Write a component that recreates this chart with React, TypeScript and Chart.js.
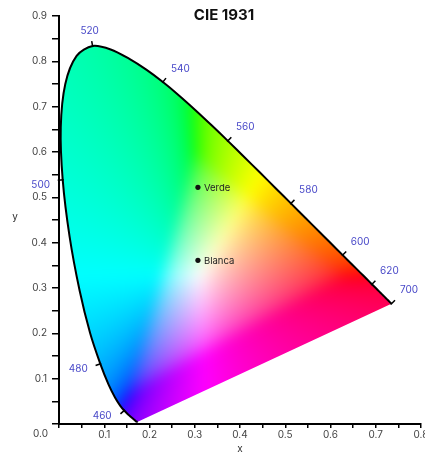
import React, { useEffect, useRef } from 'react';
import { Chart, registerables } from 'chart.js';

Chart.register(...registerables);

// Spectral locus (CIE 1931 2°), wavelength in nm
const wavelengths = [380, 385, 390, 395, 400, 405, 410, 415, 420, 425, 430, 435, 440, 445, 450, 455, 460, 465, 470, 475, 480, 485, 490, 495, 500, 505, 510, 515, 520, 525, 530, 535, 540, 545, 550, 555, 560, 565, 570, 575, 580, 585, 590, 595, 600, 605, 610, 615, 620, 625, 630, 635, 640, 645, 650, 655, 660, 665, 670, 675, 680, 685, 690, 695, 700];
const locusX = [0.1741, 0.1740, 0.1738, 0.1736, 0.1733, 0.1730, 0.1726, 0.1721, 0.1714, 0.1703, 0.1689, 0.1669, 0.1644, 0.1611, 0.1566, 0.1510, 0.1440, 0.1355, 0.1241, 0.1096, 0.0913, 0.0687, 0.0454, 0.0235, 0.0082, 0.0039, 0.0139, 0.0389, 0.0743, 0.1142, 0.1547, 0.1929, 0.2296, 0.2658, 0.3016, 0.3373, 0.3731, 0.4087, 0.4441, 0.4788, 0.5125, 0.5448, 0.5752, 0.6029, 0.6270, 0.6482, 0.6658, 0.6801, 0.6915, 0.7006, 0.7079, 0.7140, 0.7190, 0.7230, 0.7260, 0.7283, 0.7300, 0.7311, 0.7320, 0.7327, 0.7334, 0.7340, 0.7344, 0.7346, 0.7347];
const locusY = [0.0050, 0.0050, 0.0049, 0.0049, 0.0048, 0.0048, 0.0048, 0.0048, 0.0051, 0.0058, 0.0069, 0.0086, 0.0109, 0.0138, 0.0177, 0.0227, 0.0297, 0.0399, 0.0578, 0.0868, 0.1327, 0.2007, 0.2950, 0.4127, 0.5384, 0.6548, 0.7502, 0.8120, 0.8338, 0.8262, 0.8059, 0.7816, 0.7543, 0.7243, 0.6923, 0.6589, 0.6245, 0.5896, 0.5547, 0.5202, 0.4866, 0.4544, 0.4242, 0.3965, 0.3725, 0.3514, 0.3340, 0.3197, 0.3083, 0.2993, 0.2920, 0.2859, 0.2809, 0.2770, 0.2740, 0.2717, 0.2700, 0.2689, 0.2680, 0.2673, 0.2666, 0.2660, 0.2656, 0.2654, 0.2653];
const markedWavelengths = [460, 480, 500, 520, 540, 560, 580, 600, 620, 700];

const pointNames = ['Verde', 'Blanca'];
const pointX = [0.307, 0.307];
const pointY = [0.522, 0.361];

const xMax = 0.8;
const yMax = 0.9;
const titleText = 'CIE 1931';

const FONT = 'Inter, "Noto Sans", sans-serif';

function xyToRgb(x: number, y: number): [number, number, number] {
  const yy = Math.max(y, 0.002);
  const xx = Math.max(x, 0);
  const X = xx / yy;
  const Y = 1;
  const Z = Math.max(0, 1 - xx - yy) / yy;
  let r = 3.2406 * X - 1.5372 * Y - 0.4986 * Z;
  let g = -0.9689 * X + 1.8758 * Y + 0.0415 * Z;
  let b = 0.0557 * X - 0.204 * Y + 1.057 * Z;
  const mn = Math.min(r, g, b);
  if (mn < 0) { r -= mn; g -= mn; b -= mn; }
  const m = Math.max(r, g, b) || 1;
  r /= m; g /= m; b /= m;
  const gam = (c: number) => (c <= 0.0031308 ? 12.92 * c : 1.055 * Math.pow(c, 1 / 2.4) - 0.055);
  return [gam(r) * 255, gam(g) * 255, gam(b) * 255];
}

function makePattern(chart: any) {
  const area = chart.chartArea;
  const xs = chart.scales.x;
  const ys = chart.scales.y;
  if (!area || !xs || !ys) return 'rgba(0,0,0,0)';
  const key = `${area.left},${area.top},${area.right},${area.bottom}`;
  if (chart.$cieKey === key && chart.$ciePattern) return chart.$ciePattern;
  const w = chart.width;
  const h = chart.height;
  const raw = document.createElement('canvas');
  raw.width = w;
  raw.height = h;
  const rctx = raw.getContext('2d')!;
  const img = rctx.createImageData(w, h);
  const d = img.data;
  for (let py = 0; py < h; py++) {
    const yv = ys.getValueForPixel(py + 0.5);
    for (let px = 0; px < w; px++) {
      const xv = xs.getValueForPixel(px + 0.5);
      const [r, g, b] = xyToRgb(xv, yv);
      const i = (py * w + px) * 4;
      d[i] = r; d[i + 1] = g; d[i + 2] = b; d[i + 3] = 255;
    }
  }
  rctx.putImageData(img, 0, 0);
  const off = document.createElement('canvas');
  off.width = w;
  off.height = h;
  const octx = off.getContext('2d')!;
  octx.filter = 'blur(7px)';
  octx.drawImage(raw, 0, 0);
  octx.filter = 'none';
  const pat = chart.ctx.createPattern(off, 'no-repeat');
  chart.$cieKey = key;
  chart.$ciePattern = pat;
  return pat;
}

const annotationsPlugin = {
  id: 'cieAnnotations',
  afterDatasetsDraw(chart: any) {
    const ctx = chart.ctx;
    const meta = chart.getDatasetMeta(0);
    const pts = meta.data;
    ctx.save();
    // wavelength markers
    ctx.font = `10px ${FONT}`;
    ctx.textAlign = 'center';
    ctx.textBaseline = 'middle';
    markedWavelengths.forEach((wl) => {
      const i = wavelengths.indexOf(wl);
      if (i < 0) return;
      const p = pts[i];
      const a = pts[Math.max(0, i - 1)];
      const b = pts[Math.min(pts.length - 1, i + 1)];
      let tx = b.x - a.x;
      let ty = b.y - a.y;
      const len = Math.hypot(tx, ty) || 1;
      tx /= len; ty /= len;
      const nx = ty;
      const ny = -tx;
      ctx.strokeStyle = '#000';
      ctx.lineWidth = 1.5;
      ctx.beginPath();
      ctx.moveTo(p.x - nx * 1, p.y - ny * 1);
      ctx.lineTo(p.x + nx * 5, p.y + ny * 5);
      ctx.stroke();
      // label placement depends on the side of the locus
      let ox: number;
      let oy: number;
      if (nx < -0.5) { ox = -22; oy = 5; }
      else if (nx > 0.5) { ox = 17.5; oy = -13.5; }
      else { ox = -3; oy = -15; }
      ctx.fillStyle = '#4848c8';
      ctx.fillText(String(wl), p.x + ox, p.y + oy);
    });
    // point names
    const pmeta = chart.getDatasetMeta(1);
    ctx.font = `9.5px ${FONT}`;
    ctx.textAlign = 'left';
    ctx.fillStyle = '#222';
    pmeta.data.forEach((p: any, i: number) => {
      ctx.fillText(pointNames[i], p.x + 6, p.y + 0.5);
    });
    // title
    ctx.font = `bold 15px ${FONT}`;
    ctx.textAlign = 'center';
    ctx.fillStyle = '#111';
    ctx.fillText(titleText, 224, 15);
    // y axis title (upright) and corner zero label
    ctx.font = `10px ${FONT}`;
    ctx.fillStyle = '#333';
    ctx.fillText('y', 15, 217);
    ctx.textAlign = 'right';
    ctx.fillStyle = '#444';
    ctx.fillText('0.0', 48, 433.5);
    ctx.restore();
  },
};

function tickLabel(v: number) {
  const r = Math.round(v * 100);
  if (r === 0) return '';
  return r % 10 === 0 ? (r / 100).toFixed(1) : '';
}

export default function App() {
  const ref = useRef<HTMLCanvasElement | null>(null);
  useEffect(() => {
    document.body.style.margin = '0';
    if (!ref.current) return;
    const chart = new Chart(ref.current, {
      type: 'scatter',
      data: {
        datasets: [
          {
            label: 'Locus',
            data: wavelengths.map((_, i) => ({ x: locusX[i], y: locusY[i] })),
            showLine: true,
            borderColor: '#000',
            borderWidth: 2,
            pointRadius: 0,
            tension: 0.3,
            fill: 'shape',
            backgroundColor: (c: any) => makePattern(c.chart),
            order: 1,
          } as any,
          {
            label: 'Puntos',
            data: pointX.map((x, i) => ({ x, y: pointY[i] })),
            pointRadius: 2.6,
            pointBackgroundColor: '#111',
            pointBorderWidth: 0,
            backgroundColor: '#111',
            order: 0,
          } as any,
        ],
      },
      options: {
        responsive: false,
        animation: false,
        events: [],
        layout: { padding: { top: 16, right: 3, left: 0, bottom: 0 } },
        plugins: {
          legend: { display: false },
          tooltip: { enabled: false },
          title: { display: false },
        },
        scales: {
          x: {
            type: 'linear',
            min: 0,
            max: xMax,
            afterFit: (s: any) => { s.height = 30; s.paddingLeft = 0; s.paddingRight = 0; },
            border: { color: '#000', width: 2 },
            grid: { drawOnChartArea: false, drawTicks: true, tickLength: 4, tickColor: '#000', lineWidth: 1.5 },
            ticks: { stepSize: 0.05, autoSkip: false, maxRotation: 0, padding: 1, color: '#444', font: { family: FONT, size: 10 }, callback: (v: any) => tickLabel(Number(v)) },
            title: { display: true, text: 'x', color: '#333', font: { family: FONT, size: 10 }, padding: { top: 0, bottom: -1 } },
          },
          y: {
            type: 'linear',
            min: 0,
            max: yMax,
            afterFit: (s: any) => { s.width = 59; s.paddingTop = 0; s.paddingBottom = 0; },
            border: { color: '#000', width: 2 },
            grid: { drawOnChartArea: false, drawTicks: true, tickLength: 7, tickColor: '#000', lineWidth: 1.5 },
            ticks: { stepSize: 0.05, autoSkip: false, padding: 5, color: '#444', font: { family: FONT, size: 10 }, callback: (v: any) => tickLabel(Number(v)) },
            title: { display: false },
          },
        },
      },
      plugins: [annotationsPlugin],
    });
    return () => chart.destroy();
  }, []);
  return (
    <div style={{ width: 425, height: 454, overflow: 'hidden' }}>
      <canvas ref={ref} width={425} height={454} style={{ display: 'block' }} />
    </div>
  );
}
